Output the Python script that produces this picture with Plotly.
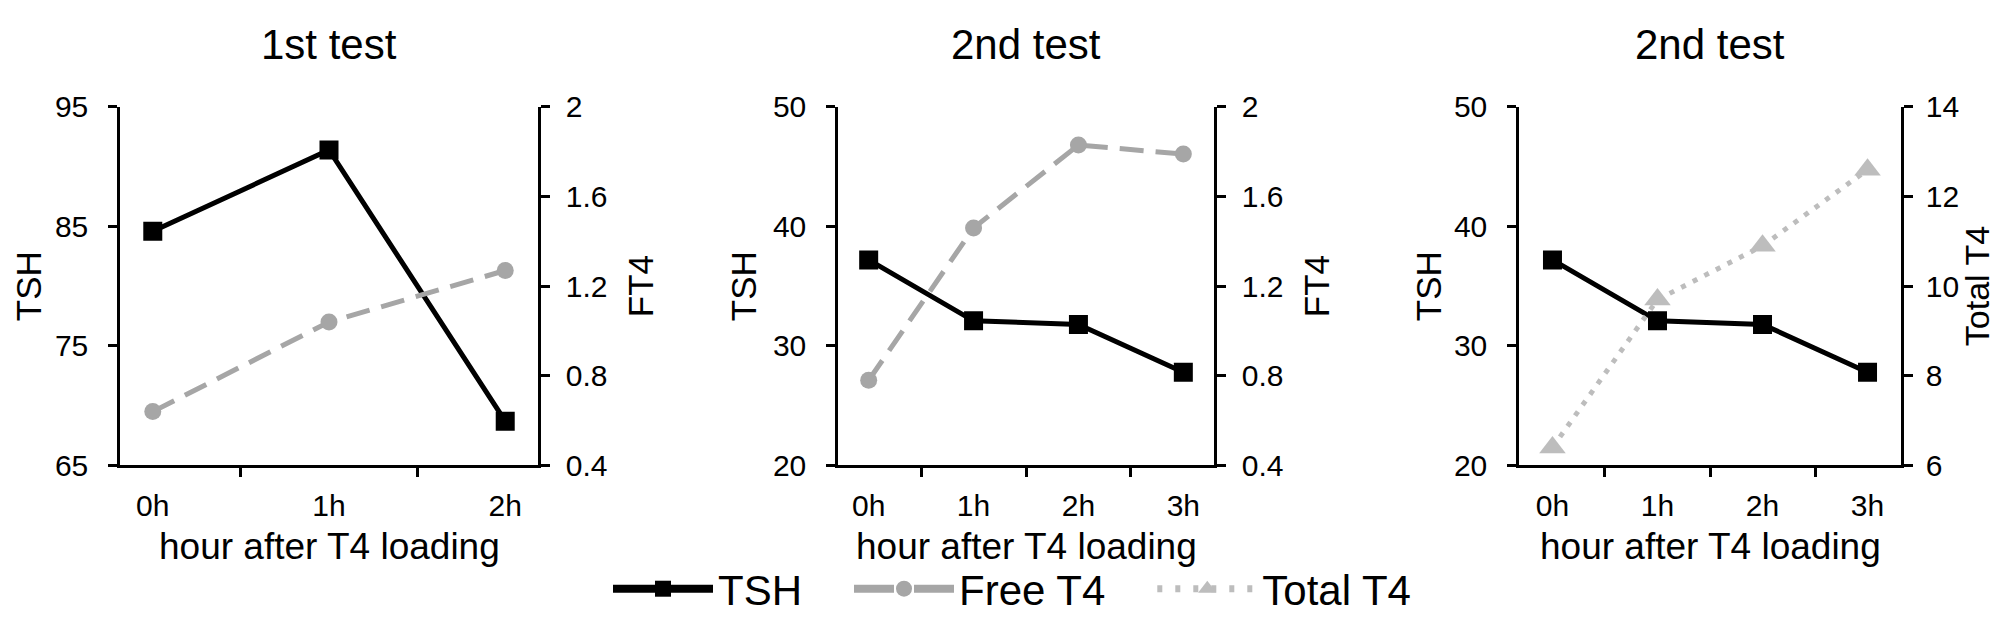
import plotly.graph_objects as go

# panel 1: 1st test
hours1 = ["0h", "1h", "2h"]
tsh1 = [84.6, 91.4, 68.7]
ft4_1 = [0.64, 1.04, 1.27]

# panels 2 and 3: 2nd test
hours2 = ["0h", "1h", "2h", "3h"]
tsh2 = [37.2, 32.1, 31.8, 27.8]
ft4_2 = [0.78, 1.46, 1.83, 1.79]
tt4_2 = [6.4, 9.7, 10.9, 12.6]

titles = ["1st test", "2nd test", "2nd test"]
xtitle = "hour after T4 loading"
left_titles = ["TSH", "TSH", "TSH"]
right_titles = ["FT4", "FT4", "Total T4"]

# keep the figure a touch inside the window so no scrollbar eats the right edge
W, H = 1990, 615


def px(X):
    # page x (px) -> paper fraction
    return X / W


def py(Y):
    # page y (px, from top) -> paper fraction
    return 1 - Y / H


FONT = "Liberation Sans"
black = "#000000"
gray = "#a6a6a6"
light = "#bdbdbd"

tsh_style = dict(mode="lines+markers", line=dict(color=black, width=5),
                 marker=dict(symbol="square", size=19, color=black))
ft4_style = dict(mode="lines+markers", line=dict(color=gray, width=5, dash="24px,12px"),
                 marker=dict(symbol="circle", size=17, color=gray))
tt4_style = dict(mode="lines+markers", line=dict(color=light, width=5, dash="5px,8px"),
                 marker=dict(symbol="triangle-up", size=23, color=light))

fig = go.Figure()

# legend-only entries (thicker line, longer symbol like the original key)
gap = "\u2002\u2002"
fig.add_trace(go.Scatter(x=[None], y=[None], name="TSH" + gap, mode="lines+markers",
                         line=dict(color=black, width=8),
                         marker=dict(symbol="square", size=16, color=black)))
fig.add_trace(go.Scatter(x=[None], y=[None], name="Free T4" + gap, mode="lines+markers",
                         line=dict(color=gray, width=8, dash="40px,20px,40px"),
                         marker=dict(symbol="circle", size=16, color=gray)))
fig.add_trace(go.Scatter(x=[None], y=[None], name="Total T4", mode="lines+markers",
                         line=dict(color=light, width=7, dash="5px,13px"),
                         marker=dict(symbol="triangle-up", size=16, color=light)))

fig.add_trace(go.Scatter(x=hours1, y=tsh1, name="TSH", showlegend=False, xaxis="x", yaxis="y", **tsh_style))
fig.add_trace(go.Scatter(x=hours1, y=ft4_1, name="Free T4", showlegend=False, xaxis="x", yaxis="y2", **ft4_style))
fig.add_trace(go.Scatter(x=hours2, y=tsh2, name="TSH", showlegend=False, xaxis="x2", yaxis="y3", **tsh_style))
fig.add_trace(go.Scatter(x=hours2, y=ft4_2, name="Free T4", showlegend=False, xaxis="x2", yaxis="y4", **ft4_style))
fig.add_trace(go.Scatter(x=hours2, y=tsh2, name="TSH", showlegend=False, xaxis="x3", yaxis="y5", **tsh_style))
fig.add_trace(go.Scatter(x=hours2, y=tt4_2, name="Total T4", showlegend=False, xaxis="x3", yaxis="y6", **tt4_style))

axis_common = dict(showline=True, linecolor=black, linewidth=2.5, showgrid=False, zeroline=False,
                   ticks="outside", ticklen=9, tickwidth=2.5, tickcolor=black,
                   tickfont=dict(family=FONT, size=30, color=black))
xtitle_font = dict(family=FONT, size=37, color=black)
ytitle_font = dict(family=FONT, size=35, color=black)

domains = [[px(112), px(530)], [px(830), px(1206)], [px(1511), px(1893)]]
ydom = [py(468), py(88)]
left_title_x = [20, 735, 1420]
right_title_x = [632, 1308, 1969]
right_standoff = [10, 10, 7]

layout = dict(width=W, height=H, margin=dict(l=0, r=0, t=0, b=0),
              plot_bgcolor="white", paper_bgcolor="white",
              font=dict(family=FONT, color=black),
              legend=dict(orientation="h", x=px(600), xanchor="left", y=py(599), yanchor="middle",
                          font=dict(family=FONT, size=42, color=black), itemwidth=100,
                          bgcolor="white", itemsizing="trace"))

left_axes = [("yaxis", [65, 95], [65, 75, 85, 95]),
             ("yaxis3", [20, 50], [20, 30, 40, 50]),
             ("yaxis5", [20, 50], [20, 30, 40, 50])]
right_axes = [("yaxis2", "y", [0.4, 2], [0.4, 0.8, 1.2, 1.6, 2]),
              ("yaxis4", "y3", [0.4, 2], [0.4, 0.8, 1.2, 1.6, 2]),
              ("yaxis6", "y5", [6, 14], [6, 8, 10, 12, 14])]

for i in range(3):
    xname = "xaxis" if i == 0 else f"xaxis{i + 1}"
    xa = "x" if i == 0 else f"x{i + 1}"
    layout[xname] = dict(axis_common, domain=domains[i], anchor="y" if i == 0 else f"y{2 * i + 1}",
                         type="category", tickson="boundaries", ticklabelstandoff=12)
    lname, lrange, lticks = left_axes[i]
    layout[lname] = dict(axis_common, domain=ydom, anchor=xa, range=lrange, tickvals=lticks,
                         ticklabelstandoff=14)
    rname, over, rrange, rticks = right_axes[i]
    layout[rname] = dict(axis_common, domain=ydom, anchor=xa, overlaying=over, side="right",
                         range=rrange, tickvals=rticks, ticklabelstandoff=right_standoff[i])

fig.update_layout(**layout)

for i in range(3):
    cx = sum(domains[i]) / 2
    fig.add_annotation(text=titles[i], x=cx, y=py(22), xref="paper", yref="paper",
                       xanchor="center", yanchor="middle", showarrow=False,
                       font=dict(family=FONT, size=42, color=black))
    fig.add_annotation(text=xtitle, x=cx, y=py(554), xref="paper", yref="paper",
                       xanchor="center", yanchor="middle", showarrow=False, font=xtitle_font)
    fig.add_annotation(text=left_titles[i], x=px(left_title_x[i]), y=py(278),
                       xref="paper", yref="paper", xanchor="center", yanchor="middle",
                       textangle=-90, showarrow=False, font=ytitle_font)
    fig.add_annotation(text=right_titles[i], x=px(right_title_x[i]), y=py(278),
                       xref="paper", yref="paper", xanchor="center", yanchor="middle",
                       textangle=-90, showarrow=False,
                       font=ytitle_font if i < 2 else dict(ytitle_font, size=34))

fig.write_html("out.html")
